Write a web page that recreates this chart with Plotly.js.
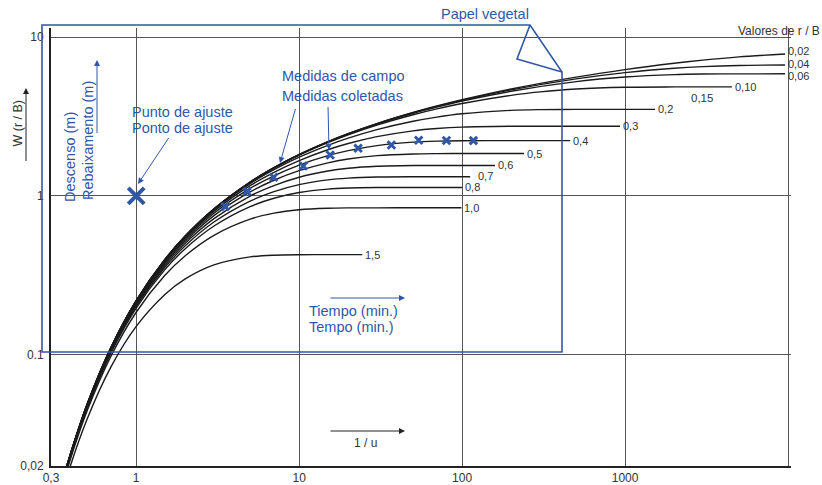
<!DOCTYPE html>
<html><head><meta charset="utf-8">
<script src="https://cdn.plot.ly/plotly-3.0.1.min.js"></script>
<style>html,body{margin:0;padding:0;background:#fff}#chart{width:822px;height:485px}</style>
</head><body><div id="chart"></div>
<script>
// ---- Type curves W(u, r/B) vs 1/u ----
const X_long = [0.35,0.38,0.5,0.7,1,1.5,2,3,5,7,10,15,20,30,50,70,100,200,500,1000,2000,3000,5000,9590];
const W_002 = [0.0157,0.0210,0.0489,0.1114,0.2194,0.3985,0.5598,0.8292,1.2227,1.5067,1.8228,2.1953,2.4662,2.8544,3.3501,3.679,4.0284,4.7067,5.5906,6.2346,6.8344,7.1513,7.497,7.8215];
const W_004 = [0.0157,0.0210,0.0489,0.1114,0.2193,0.3983,0.5595,0.8287,1.2216,1.5049,1.820,2.1918,2.4613,2.8465,3.3361,3.6586,3.9992,4.6489,5.4504,5.97,6.3615,6.5136,6.6231,6.667];
const W_006 = [0.0157,0.0210,0.0489,0.1113,0.2193,0.3982,0.5592,0.828,1.2201,1.5026,1.8164,2.1858,2.453,2.8336,3.3144,3.628,3.9547,4.5592,5.2414,5.606,5.8013,5.8468,5.864,5.866];
const X_010 = [0.35,0.38,0.5,0.7,1,1.5,2,3,5,7,10,15,20,30,50,70,100,200,300,500,1000,2000,4530];
const W_010 = [0.0157,0.02098,0.04885,0.1113,0.219,0.3976,0.5582,0.8259,1.2155,1.4954,1.8049,2.1672,2.4271,2.7928,3.2441,3.5293,3.8149,4.2958,4.5139,4.7077,4.829,4.8529,4.854];
const X_020 = [0.35,0.38,0.5,0.7,1,1.5,2,3,5,7,10,15,20,30,50,70,100,200,300,500,1528];
const W_020 = [0.0156,0.02094,0.04871,0.1108,0.2179,0.3948,0.5533,0.8161,1.1944,1.462,1.7527,2.0824,2.3106,2.6148,2.9517,3.1346,3.2871,3.4563,3.492,3.5039,3.505];
const X_030 = [0.35,0.38,0.5,0.7,1,1.5,2,3,5,7,10,15,20,30,50,70,100,200,931];
const W_030 = [0.0155,0.02086,0.04848,0.1101,0.2161,0.3902,0.5453,0.8001,1.1603,1.4087,1.6704,1.9535,2.1372,2.3605,2.5688,2.6564,2.7104,2.743,2.745];
const X_040 = [0.35,0.38,0.5,0.7,1,1.5,2,3,5,7,10,15,20,30,50,70,100,200,460];
const W_040 = [0.0154,0.02075,0.04815,0.1092,0.2136,0.384,0.5344,0.7784,1.1145,1.3383,1.5643,1.7926,1.9283,2.0743,2.1809,2.2124,2.2252,2.229,2.229];
const X_050 = [0.35,0.38,0.5,0.7,1,1.5,2,3,5,7,10,15,20,30,50,70,100,240];
const W_050 = [0.0152,0.02061,0.04774,0.1079,0.2103,0.376,0.5206,0.7515,1.0592,1.2552,1.4419,1.6155,1.7076,1.7923,1.838,1.8466,1.8487,1.849];
const X_060 = [0.35,0.38,0.5,0.7,1,1.5,2,3,5,7,10,15,20,30,50,100,159];
const W_060 = [0.0150,0.02044,0.04724,0.1064,0.2065,0.3666,0.5044,0.7201,0.9988,1.1622,1.3114,1.4353,1.4927,1.5363,1.553,1.555,1.555];
const X_070 = [0.35,0.38,0.5,0.7,1,1.5,2,3,5,7,10,15,20,30,50,112];
const W_070 = [0.0149,0.02025,0.04666,0.1047,0.202,0.3558,0.486,0.6851,0.9282,1.0653,1.179,1.2626,1.2954,1.3155,1.3207,1.321];
const X_080 = [0.35,0.38,0.5,0.7,1,1.5,2,3,5,7,10,15,20,30,50,100];
const W_080 = [0.0147,0.02002,0.046,0.1028,0.197,0.3438,0.4658,0.6467,0.8575,0.9675,1.0505,1.1037,1.121,1.1293,1.1307,1.1307];
const X_100 = [0.35,0.38,0.5,0.7,1,1.5,2,3,5,7,10,15,20,30,50,99];
const W_100 = [0.0144,0.01948,0.04445,0.0982,0.1855,0.3168,0.421,0.5656,0.7147,0.7795,0.819,0.8371,0.8409,0.8419,0.842,0.842];
const X_150 = [0.35,0.38,0.5,0.7,1,1.5,2,3,5,7,10,15,24.4];
const W_150 = [0.0132,0.01777,0.03946,0.084,0.151,0.2399,0.3007,0.3682,0.4134,0.424,0.4271,0.4276,0.4276];

const curveLabels = ['0,02','0,04','0,06','0,10','0,2','0,3','0,4','0,5','0,6','0,7','0,8','1,0','1,5'];
const curveX = [X_long,X_long,X_long,X_010,X_020,X_030,X_040,X_050,X_060,X_070,X_080,X_100,X_150];
const curveW = [W_002,W_004,W_006,W_010,W_020,W_030,W_040,W_050,W_060,W_070,W_080,W_100,W_150];

// field measurements (time, drawdown) on the tracing paper, and the match point
const fieldX = [3.52,4.78,6.98,10.6,15.5,23.0,36.8,54.1,80.1,117.3];
const fieldW = [0.856,1.064,1.311,1.544,1.811,1.995,2.093,2.24,2.234,2.227];
const matchX = [1];
const matchW = [1];

// ticks
const xTickVals = [0.3,1,10,100,1000,10000];
const xTickText = ['0,3','1','10','100','1000',''];
const yTickVals = [0.02,0.1,1,10];
const yTickText = ['0,02','0.1','1','10'];

const BLUE = '#2f57a8';
const FONT = 'Liberation Sans, Arial, Helvetica, sans-serif';
const L = 51, T = 28, PW = 740, PH = 438;
const ppx = x => (x - L) / PW;
const ppy = y => (T + PH - y) / PH;

const traces = curveX.map((xs, i) => ({
  type: 'scatter', mode: 'lines', x: xs, y: curveW[i],
  line: {color: '#1b1b1b', width: 1.4, shape: 'spline', smoothing: 0.8},
  hoverinfo: 'skip', showlegend: false
}));
traces.push({
  type: 'scatter', mode: 'markers', x: fieldX, y: fieldW,
  marker: {symbol: 'x-thin', size: 7.5, line: {color: BLUE, width: 3}},
  showlegend: false
});
traces.push({
  type: 'scatter', mode: 'markers', x: matchX, y: matchW,
  marker: {symbol: 'x-thin', size: 16, line: {color: BLUE, width: 4}},
  showlegend: false
});

const annotations = [];
// curve labels at the end of each plateau
const labShift = {'0,02': [2, 2.5], '0,04': [2, 0.5], '0,06': [2, -2.5], '0,7': [7, 1]};
curveLabels.forEach((lab, i) => {
  const xs = curveX[i], ws = curveW[i];
  const s = labShift[lab] || [2, 0];
  annotations.push({
    xref: 'x', yref: 'y', x: Math.log10(xs[xs.length - 1]), y: Math.log10(ws[ws.length - 1]),
    text: lab, showarrow: false, xanchor: 'left', yanchor: 'middle', xshift: s[0], yshift: s[1],
    borderpad: 0, font: {family: FONT, size: 11, color: '#333'}
  });
});
annotations.push({xref: 'paper', yref: 'paper', x: ppx(690), y: ppy(98), text: '0,15', showarrow: false,
  xanchor: 'left', yanchor: 'middle', borderpad: 0, font: {family: FONT, size: 11.5, color: '#333'}});
annotations.push({xref: 'paper', yref: 'paper', x: ppx(821), y: ppy(31), text: 'Valores de r / B', showarrow: false,
  xanchor: 'right', yanchor: 'middle', borderpad: 0, font: {family: FONT, size: 12, color: '#333'}});

function txt(t, x, y, o) {
  o = o || {};
  annotations.push(Object.assign({xref: 'paper', yref: 'paper', x: ppx(x), y: ppy(y), text: t, showarrow: false,
    xanchor: 'left', yanchor: 'middle', borderpad: 0,
    font: {family: FONT, size: o.size || 14.5, color: o.color || BLUE}}, o.extra || {}));
}
txt('Papel vegetal', 440, 14);
txt('Punto de ajuste', 131, 112);
txt('Ponto de ajuste', 131, 128);
txt('Medidas de campo', 281, 76);
txt('Medidas coletadas', 281, 96);
txt('Tiempo (min.)', 308, 311);
txt('Tempo (min.)', 308, 327);
txt('Descenso (m)', 70, 157, {extra: {textangle: -90, xanchor: 'center'}});
txt('Rebaixamento (m)', 88, 141, {extra: {textangle: -90, xanchor: 'center'}});
txt('W (r / B)', 17.5, 123, {size: 12.5, color: '#333', extra: {textangle: -90, xanchor: 'center'}});
txt('1 / u', 365, 443, {size: 12, color: '#333', extra: {xanchor: 'center'}});

function arrow(hx, hy, tx, ty, color) {
  annotations.push({xref: 'paper', yref: 'paper', x: ppx(hx), y: ppy(hy), ax: tx - hx, ay: ty - hy,
    axref: 'pixel', ayref: 'pixel', text: ' ', font: {size: 1}, showarrow: true, arrowhead: 2,
    arrowsize: 1.2, arrowwidth: 1, arrowcolor: color, standoff: 0, startstandoff: 0});
}
arrow(405, 431, 329, 431, '#222');
arrow(26, 88, 26, 163, '#222');
arrow(405, 298, 329, 298, BLUE);
arrow(97, 60, 97, 135, BLUE);
arrow(138, 184, 170, 136, BLUE);
arrow(280, 163, 296, 107, BLUE);
arrow(329, 150, 328, 105, BLUE);

const P = (x, y) => ppx(x).toFixed(5) + ',' + ppy(y).toFixed(5);
const shapes = [
  {type: 'path', xref: 'paper', yref: 'paper', layer: 'above',
   path: 'M' + P(42, 25) + ' L' + P(530, 25) + ' L' + P(562, 72) + ' L' + P(562, 352) + ' L' + P(42, 352) + ' Z',
   line: {color: BLUE, width: 1.6}},
  {type: 'path', xref: 'paper', yref: 'paper', layer: 'above',
   path: 'M' + P(530, 25) + ' L' + P(517, 59) + ' L' + P(562, 72),
   line: {color: BLUE, width: 1.6}}
];

const layout = {
  width: 822, height: 485,
  margin: {l: L, r: 822 - L - PW, t: T, b: 485 - T - PH, pad: 0},
  paper_bgcolor: '#fff', plot_bgcolor: '#fff',
  showlegend: false,
  xaxis: {type: 'log', range: [Math.log10(0.3), 4.018], tickvals: xTickVals, ticktext: xTickText,
    showgrid: true, gridcolor: '#555', gridwidth: 1, zeroline: false, showline: true,
    linecolor: '#222', linewidth: 2, ticks: '', tickfont: {family: FONT, size: 12, color: '#333'}},
  yaxis: {type: 'log', range: [Math.log10(0.02), 1.0566], tickvals: yTickVals, ticktext: yTickText,
    showgrid: true, gridcolor: '#555', gridwidth: 1, zeroline: false, showline: true, ticklabelstandoff: 3,
    linecolor: '#222', linewidth: 2, ticks: '', tickfont: {family: FONT, size: 12, color: '#333'}},
  annotations: annotations,
  shapes: shapes
};

Plotly.newPlot('chart', traces, layout, {staticPlot: true, displayModeBar: false});
</script>
</body></html>
